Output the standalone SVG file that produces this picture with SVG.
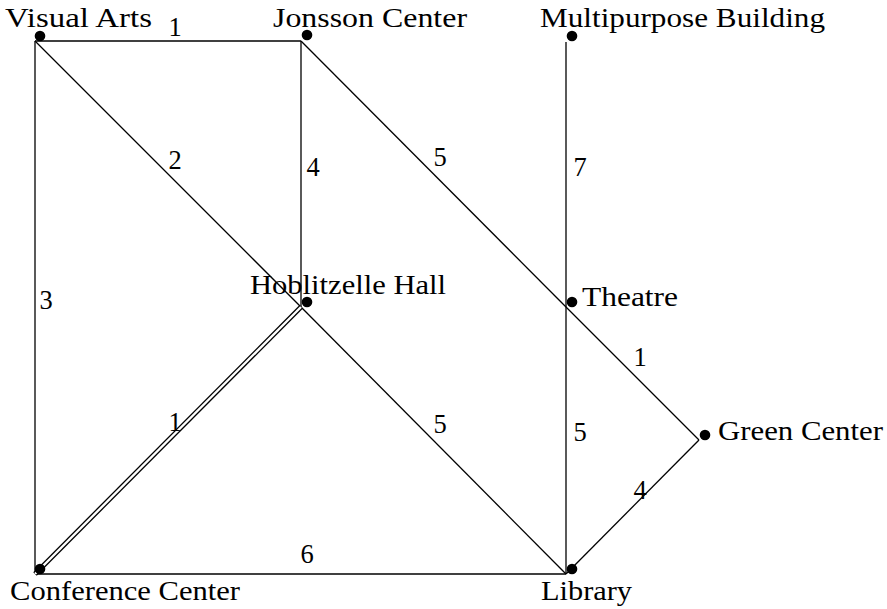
<svg xmlns="http://www.w3.org/2000/svg" width="887" height="609" viewBox="0 0 887 609">
<style>
text{font-family:"Liberation Serif","Times New Roman",serif;font-size:26.5px;fill:#000}
.n{text-anchor:middle}
.e{stroke:#000;stroke-width:1.3;fill:none}
.dbo{stroke:#000;stroke-width:5;fill:none}
.dbi{stroke:#fff;stroke-width:2.4;fill:none}
circle{fill:#000}
</style>
<rect width="887" height="609" fill="#fff"/>
<g id="connectors">
<line class="e" x1="35" y1="41" x2="301" y2="41"/>
<line class="e" x1="35" y1="41" x2="35" y2="574"/>
<line class="e" x1="35" y1="41" x2="301" y2="307"/>
<line class="e" x1="301" y1="307" x2="566" y2="574"/>
<line class="e" x1="301" y1="41" x2="301" y2="307"/>
<line class="e" x1="301" y1="41" x2="566" y2="307"/>
<line class="e" x1="566" y1="307" x2="699" y2="440"/>
<line class="e" x1="566" y1="42" x2="566" y2="307"/>
<line class="e" x1="566" y1="307" x2="566" y2="574"/>
<line class="e" x1="35" y1="574" x2="566" y2="574"/>
<line class="e" x1="566" y1="574" x2="699" y2="440"/>
<line class="dbo" x1="35" y1="574" x2="301" y2="307"/>
<line class="dbi" x1="35" y1="574" x2="301" y2="307"/>
<text class="n" x="175" y="36">1</text>
<text class="n" x="175" y="169">2</text>
<text class="n" x="46" y="309">3</text>
<text class="n" x="313" y="176">4</text>
<text class="n" x="440" y="166">5</text>
<text class="n" x="580" y="176">7</text>
<text class="n" x="640" y="366">1</text>
<text class="n" x="175" y="431">1</text>
<text class="n" x="440" y="433">5</text>
<text class="n" x="580" y="441">5</text>
<text class="n" x="640" y="499">4</text>
<text class="n" x="307" y="563">6</text>
</g>
<g id="visual-arts"><circle cx="40" cy="36" r="5.3"/><text x="5" y="27" textLength="147" lengthAdjust="spacingAndGlyphs">Visual Arts</text></g>
<g id="jonsson-center"><circle cx="307" cy="35" r="5.3"/><text x="273" y="27" textLength="194" lengthAdjust="spacingAndGlyphs">Jonsson Center</text></g>
<g id="multipurpose-building"><circle cx="572" cy="36" r="5.3"/><text x="540" y="27" textLength="285" lengthAdjust="spacingAndGlyphs">Multipurpose Building</text></g>
<g id="hoblitzelle-hall"><circle cx="307" cy="302" r="5.3"/><text x="250" y="294" textLength="196" lengthAdjust="spacingAndGlyphs">Hoblitzelle Hall</text></g>
<g id="theatre"><circle cx="572" cy="302" r="5.3"/><text x="582" y="306" textLength="96" lengthAdjust="spacingAndGlyphs">Theatre</text></g>
<g id="green-center"><circle cx="705" cy="435" r="5.3"/><text x="718" y="440" textLength="165" lengthAdjust="spacingAndGlyphs">Green Center</text></g>
<g id="conference-center"><circle cx="40" cy="569" r="5.3"/><text x="10" y="600" textLength="230" lengthAdjust="spacingAndGlyphs">Conference Center</text></g>
<g id="library"><circle cx="572" cy="569" r="5.3"/><text x="541" y="600" textLength="91" lengthAdjust="spacingAndGlyphs">Library</text></g>
</svg>
